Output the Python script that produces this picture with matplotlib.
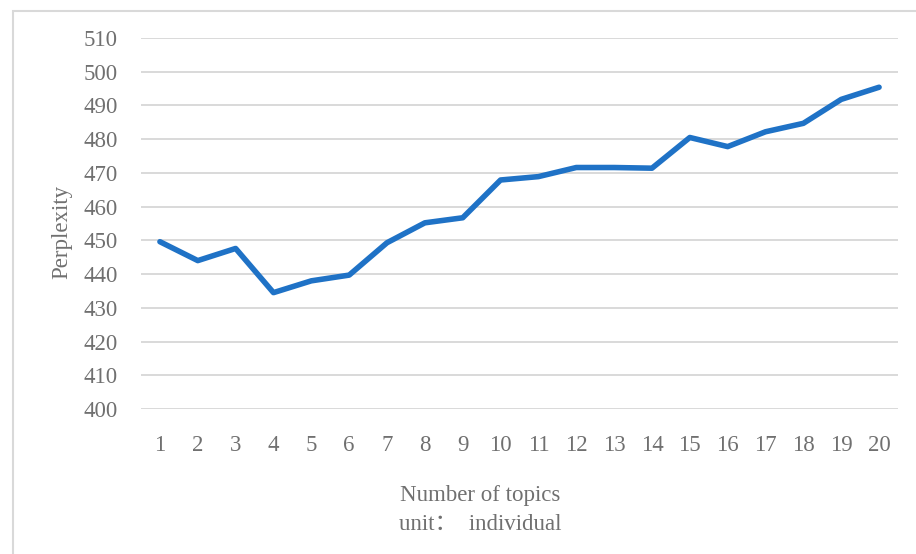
import matplotlib
matplotlib.use("Agg")
import matplotlib.pyplot as plt
from matplotlib.patches import Rectangle

# Perplexity by number of topics
topics = list(range(1, 21))
perplexity = [449.6, 444.0, 447.6, 434.5, 438.0, 439.7, 449.3, 455.2, 456.7, 467.9,
              468.9, 471.6, 471.6, 471.4, 480.5, 477.8, 482.2, 484.7, 491.8, 495.4]
y_ticks = list(range(400, 511, 10))

W, H = 916, 554
fig = plt.figure(figsize=(W / 100, H / 100), dpi=100)
fig.patch.set_facecolor("white")

fonts = ["Liberation Serif", "Noto Sans CJK SC", "DejaVu Serif"]
txt_color = "#707070"
fs = 16.5

# chart frame
fig.add_artist(Rectangle((13 / W, -0.05), 1.2, 1 - 11 / H + 0.05,
                         transform=fig.transFigure, fill=False,
                         edgecolor="#d9d9d9", linewidth=1.5))

left, right = 141 / W, 898 / W
bottom, top = 1 - 409 / H, 1 - 38 / H
ax = fig.add_axes([left, bottom, right - left, top - bottom])

ax.plot(topics, perplexity, color="#1f72c6", linewidth=4.0,
        solid_capstyle="round", solid_joinstyle="round", zorder=3)

ax.set_xlim(0.5, 20.5)
ax.set_ylim(400, 510)
ax.set_yticks(y_ticks)
ax.set_xticks(topics)
ax.set_xticklabels([str(t) for t in topics])
ax.grid(axis="y", color="#d9d9d9", linewidth=1.4, zorder=0)
ax.grid(axis="x", visible=False)
for s in ax.spines.values():
    s.set_visible(False)
ax.tick_params(axis="both", length=0, labelsize=fs, labelcolor=txt_color)
ax.tick_params(axis="y", pad=17)
ax.tick_params(axis="x", pad=19)
for lab in ax.get_xticklabels() + ax.get_yticklabels():
    lab.set_family(fonts)

fig.text(62 / W, 1 - 232 / H, "Perplexity", rotation=90, ha="center", va="center",
         fontsize=fs, color=txt_color, family=fonts)
fig.text(480 / W, 1 - 495 / H, "Number of topics", ha="center", va="center",
         fontsize=fs, color=txt_color, family=fonts)
fig.text(480 / W, 1 - 524 / H, "unit：  individual", ha="center", va="center",
         fontsize=fs, color=txt_color, family=fonts)

fig.savefig("out.png", dpi=100)
